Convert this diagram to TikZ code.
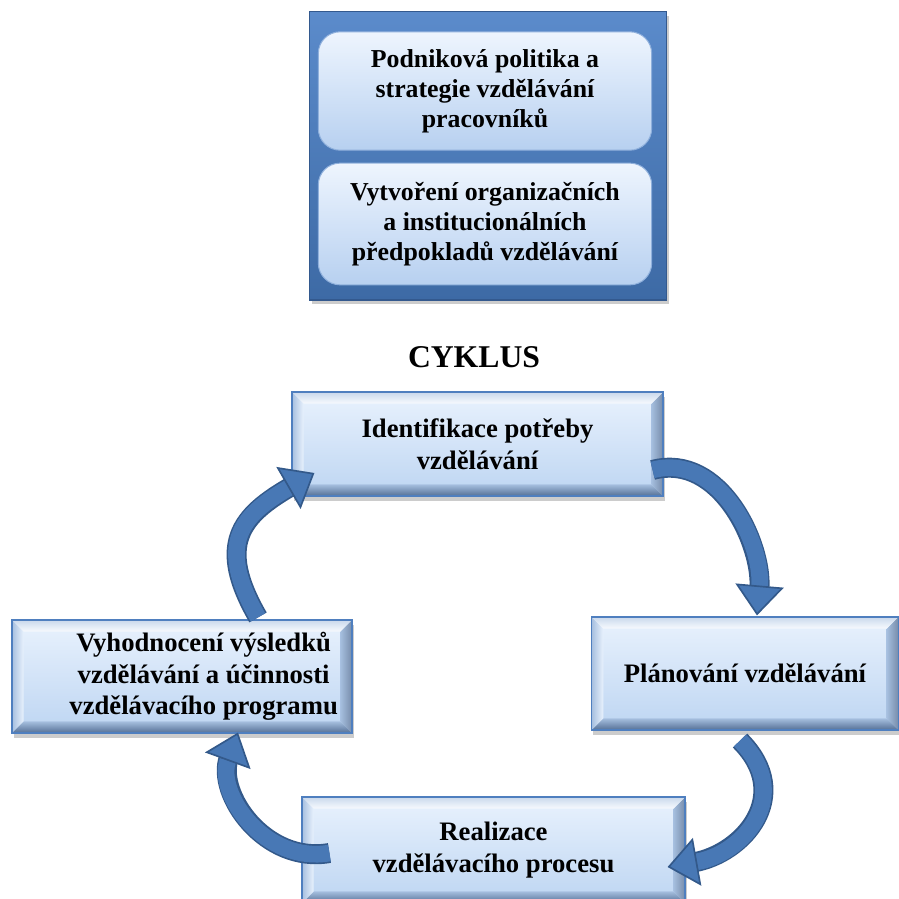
\documentclass[tikz,border=0pt]{standalone}
\usepackage{fontspec}
\setmainfont{Liberation Serif}
\usetikzlibrary{arrows.meta, calc, shadows}
\definecolor{cframeA}{HTML}{5B8BCB}
\definecolor{cframeB}{HTML}{3D6AA5}
\definecolor{cframeD}{HTML}{33598E}
\definecolor{cpanelA}{HTML}{EEF5FE}
\definecolor{cpanelB}{HTML}{B7D0F0}
\definecolor{cpanelD}{HTML}{8FB0DC}
\definecolor{cfaceA}{HTML}{E9F2FD}
\definecolor{cfaceB}{HTML}{BDD5F2}
\definecolor{cedge}{HTML}{4F7FBF}
\definecolor{cbevLight}{HTML}{F7FAFE}
\definecolor{cbevMid}{HTML}{A6BFDF}
\definecolor{cbevDark}{HTML}{546F95}
\definecolor{carrow}{HTML}{4878B5}
\definecolor{carrowD}{HTML}{33598A}
\newcommand{\cyclefont}{\fontsize{16}{19}\selectfont\bfseries}
\newcommand{\panelfont}{\fontsize{15.5}{18}\selectfont\bfseries}
\tikzset{
  every picture/.style={x=0.6pt, y=0.6pt},
  frame/.style={draw=cframeD, line width=0.8pt, top color=cframeA, bottom color=cframeB,
    minimum width=214pt, minimum height=173pt,
    drop shadow={opacity=0.4, shadow xshift=1.5pt, shadow yshift=-2.5pt}},
  panel/.style={draw=cpanelD, line width=0.6pt, top color=cpanelA, bottom color=cpanelB,
    rounded corners=13pt, minimum width=200pt, align=center, font=\panelfont},
  cyclebox/.style={draw=cedge, line width=0.7pt, top color=cfaceA, bottom color=cfaceB,
    align=center, font=\cyclefont, inner sep=0pt,
    drop shadow={opacity=0.4, shadow xshift=1pt, shadow yshift=-3pt},
    path picture={
      \path (path picture bounding box.south west) coordinate (bsw)
            (path picture bounding box.south east) coordinate (bse)
            (path picture bounding box.north east) coordinate (bne)
            (path picture bounding box.north west) coordinate (bnw);
      \shade[top color=cbevMid, bottom color=cbevDark]
        (bsw) -- (bse) -- ($(bse)+(-7pt,7pt)$) -- ($(bsw)+(7pt,7pt)$) -- cycle;
      \shade[left color=cbevMid, right color=cbevDark!80]
        (bse) -- (bne) -- ($(bne)+(-7pt,-7pt)$) -- ($(bse)+(-7pt,7pt)$) -- cycle;
      \shade[left color=cbevMid, right color=cfaceA]
        (bsw) -- (bnw) -- ($(bnw)+(7pt,-7pt)$) -- ($(bsw)+(7pt,7pt)$) -- cycle;
      \shade[top color=cbevMid!60, bottom color=cbevLight]
        (bnw) -- (bne) -- ($(bne)+(-7pt,-7pt)$) -- ($(bnw)+(7pt,-7pt)$) -- cycle;
    }},
  cycarrow/.style={line width=10pt, draw=carrow,
    -{Triangle[width=29pt, length=18pt, fill=carrow, color=carrowD, line width=1pt]},
    preaction={draw=carrowD, line width=12pt, -, shorten >=16pt}},
}
\begin{document}
\begin{tikzpicture}
  \clip (0,0) rectangle (899,899);
  % top block
  \node[frame] (frame) at (488,743) {};
  \node[panel, minimum height=71pt] (policy) at (485,808)
    {Podniková politika a\\strategie vzdělávání\\pracovníků};
  \node[panel, minimum height=73pt] (setup) at (485,675)
    {Vytvoření organizačních\\a institucionálních\\předpokladů vzdělávání};
  \node[font=\fontsize{19}{22}\selectfont\bfseries] (title) at (474,542) {CYKLUS};
  % cycle
  \node[cyclebox, minimum width=222.6pt, minimum height=62.4pt] (idf) at (477.5,455)
    {Identifikace potřeby\\vzdělávání};
  \node[cyclebox, minimum width=184pt, minimum height=67.8pt] (plan) at (745,225.5)
    {Plánování vzdělávání};
  \node[cyclebox, minimum width=229.8pt, minimum height=63.6pt] (real) at (493.5,49)
    {Realizace\\vzdělávacího procesu};
  \node[cyclebox, minimum width=204pt, minimum height=67.8pt,
    label={[font=\cyclefont, align=center, xshift=13pt]center:{Vyhodnocení výsledků\\vzdělávání a účinnosti\\vzdělávacího programu}}]
    (eval) at (182,222.5) {};
  % arrows
  \draw[cycarrow] ($(idf.east)+(-11,-26)$) to[out=15, in=85] ($(plan.north)+(12,1)$);
  \draw[cycarrow] ($(plan.south)+(-5,-10)$) to[out=-45, in=10, looseness=1.35] ($(real.east)+(-18,-17)$);
  \draw[cycarrow] ($(real.west)+(28,-3)$) to[out=190, in=-110, looseness=1.1] ($(eval.south)+(56,1)$);
  \draw[cycarrow] ($(eval.north)+(76,2)$) to[out=120, in=210, looseness=1.4] ($(idf.west)+(23,-29)$);
\end{tikzpicture}
\end{document}
